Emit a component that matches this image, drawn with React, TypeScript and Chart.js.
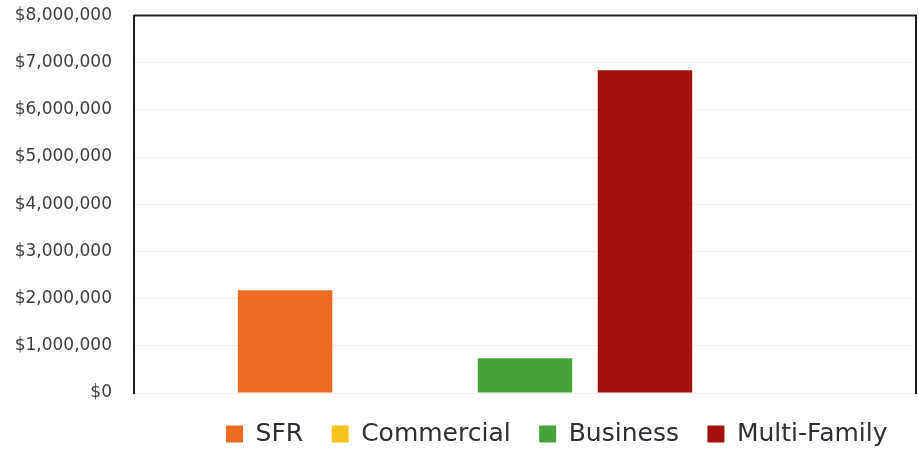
import React, { useEffect, useRef } from 'react';
import { Chart, registerables } from 'chart.js';

Chart.register(...registerables);

const categories = [''];
const seriesNames = ['SFR', 'Commercial', 'Business', 'Multi-Family', ''];
const sfrValues = [2180000];
const commercialValues = [0];
const businessValues = [735000];
const multiFamilyValues = [6840000];
const spacerValues: (number | null)[] = [null];
const seriesColors = ['#EF6A21', '#F8C31B', '#45A33A', '#A3100F', 'rgba(0,0,0,0)'];
const yMin = 0;
const yMax = 8000000;
const yStep = 1000000;

const framePlugin = {
  id: 'frame',
  afterDraw(chart: any) {
    const { ctx, chartArea } = chart;
    const { left, top, right, bottom } = chartArea;
    ctx.save();
    ctx.strokeStyle = '#1c1c1c';
    ctx.lineWidth = 2;
    ctx.beginPath();
    ctx.moveTo(left, top);
    ctx.lineTo(right, top);
    ctx.lineTo(right, bottom + 1);
    ctx.stroke();
    ctx.restore();
  },
};

export default function App() {
  const canvasRef = useRef<HTMLCanvasElement | null>(null);

  useEffect(() => {
    if (!canvasRef.current) return;
    const allSeries = [sfrValues, commercialValues, businessValues, multiFamilyValues, spacerValues];
    const chart = new Chart(canvasRef.current, {
      type: 'bar',
      data: {
        labels: categories,
        datasets: allSeries.map((values, i) => ({
          label: seriesNames[i],
          data: values,
          backgroundColor: seriesColors[i],
          borderWidth: 0,
          categoryPercentage: 0.767,
          barPercentage: 0.7875,
        })),
      },
      options: {
        animation: false,
        responsive: true,
        maintainAspectRatio: false,
        layout: { padding: { left: 15, right: 3, top: 15.5, bottom: -7.5 } },
        plugins: {
          tooltip: { enabled: false },
          legend: {
            position: 'bottom',
            fullSize: false,
            align: 'end',
            labels: {
              boxWidth: 17,
              boxHeight: 17,
              padding: 28.5,
              color: '#2e2e33',
              font: { family: 'DejaVu Sans', size: 25 },
              filter: (item: any) => item.text !== '',
            },
          },
        },
        scales: {
          x: { display: false },
          y: {
            min: yMin,
            max: yMax,
            afterFit: (scale: any) => {
              scale.width = 119;
              scale.paddingTop = 0;
              scale.paddingBottom = 0;
            },
            ticks: {
              stepSize: yStep,
              padding: 22,
              color: '#3d3d3d',
              font: { family: 'DejaVu Sans', size: 17 },
              callback: (v: any) => '$' + Number(v).toLocaleString('en-US'),
            },
            grid: { color: 'rgba(0,0,0,0.05)', drawTicks: false },
            border: { display: true, color: '#1c1c1c', width: 2 },
          },
        },
      },
      plugins: [framePlugin],
    });
    return () => chart.destroy();
  }, []);

  return (
    <div style={{ position: 'absolute', left: 0, top: 0, width: 919, height: 449 }}>
      <canvas ref={canvasRef} />
    </div>
  );
}
